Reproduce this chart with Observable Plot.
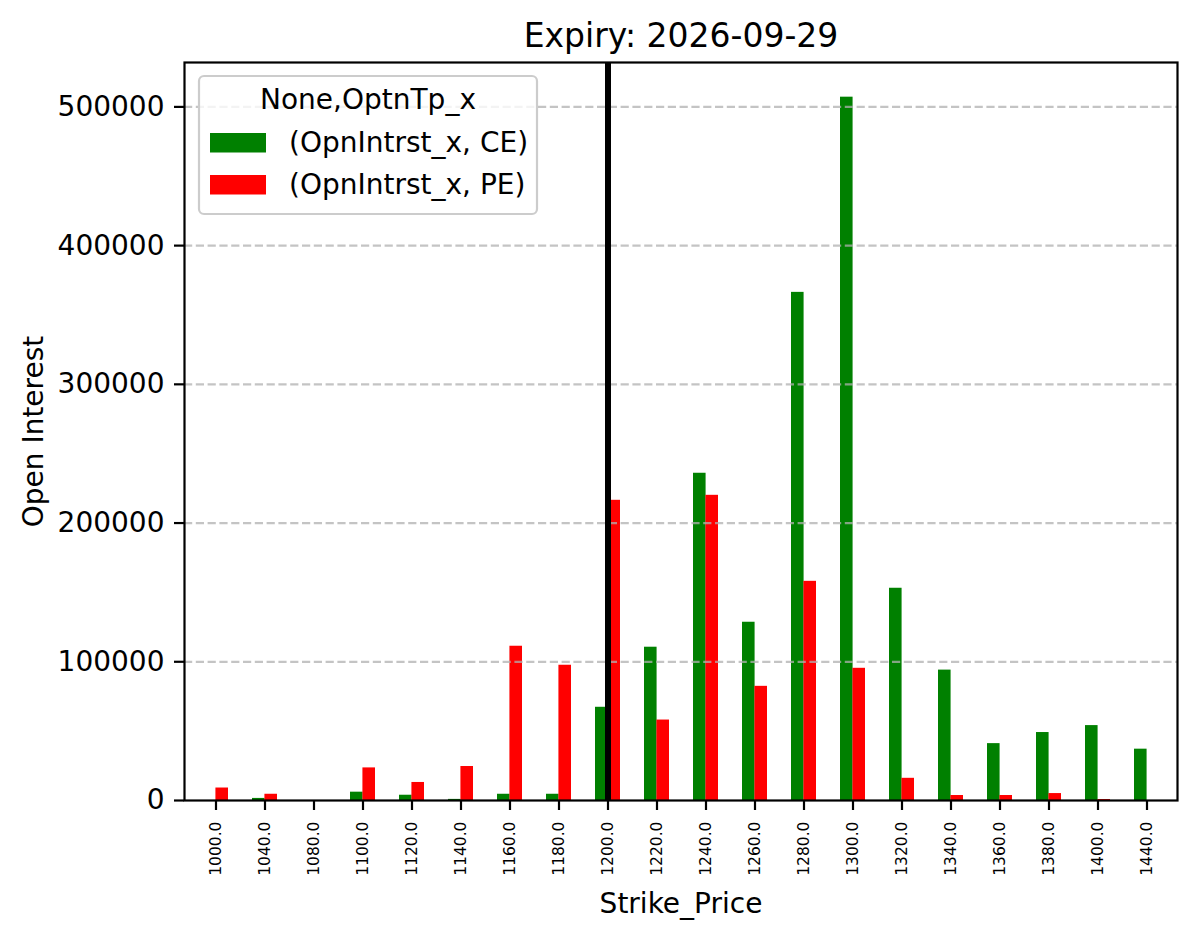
<!DOCTYPE html>
<html>
<head>
<meta charset="utf-8">
<script src="https://cdn.jsdelivr.net/npm/d3@7"></script>
<script src="https://cdn.jsdelivr.net/npm/@observablehq/plot@0.6"></script>
<style>
  html, body { margin: 0; padding: 0; background: #fff; }
  #chart { width: 1197px; height: 939px; }
  svg { font-family: "DejaVu Sans", sans-serif; }
</style>
</head>
<body>
<div id="chart"></div>
<script>
const titleText = "Expiry: 2026-09-29";
const xLabel = "Strike_Price";
const yLabel = "Open Interest";
const legendTitle = "None,OptnTp_x";

const strikes = ["1000.0","1040.0","1080.0","1100.0","1120.0","1140.0","1160.0","1180.0","1200.0","1220.0",
                 "1240.0","1260.0","1280.0","1300.0","1320.0","1340.0","1360.0","1380.0","1400.0","1440.0"];
const ceOI = [0, 1500, 0, 6000, 3800, 800, 4500, 4500, 67200, 110500,
              235900, 128500, 366300, 507000, 153000, 94000, 41000, 49000, 54000, 37000];
const peOI = [9000, 4500, 0, 23500, 13000, 24500, 111200, 97500, 216400, 58000,
              220000, 82300, 158000, 95300, 16000, 3600, 3600, 5000, 700, 0];
const seriesNames = ["(OpnIntrst_x, CE)", "(OpnIntrst_x, PE)"];
const seriesColors = ["#008000", "#ff0000"];
const yTicks = [0, 100000, 200000, 300000, 400000, 500000];
const spotStrike = "1200.0";

const W = 1197, H = 939;
const mL = 184, mR = 20, mT = 62, mB = 139;
const step = (W - mL - mR) / strikes.length;
const half = step * 0.25;

const ce = strikes.map((s, i) => ({strike: s, value: ceOI[i]}));
const pe = strikes.map((s, i) => ({strike: s, value: peOI[i]}));

const chart = Plot.plot({
  width: W, height: H,
  marginLeft: mL, marginRight: mR, marginTop: mT, marginBottom: mB,
  style: {fontFamily: "DejaVu Sans, sans-serif", background: "white"},
  x: {type: "band", domain: strikes, paddingInner: 0.5, paddingOuter: 0.25, label: null},
  y: {domain: [0, 532000], label: null},
  marks: [
    Plot.barY(ce, {x: "strike", y1: 0, y2: "value", fill: seriesColors[0], insetRight: half, insetLeft: 0}),
    Plot.barY(pe, {x: "strike", y1: 0, y2: "value", fill: seriesColors[1], insetLeft: half, insetRight: 0}),
    Plot.ruleY(yTicks.slice(1), {stroke: "#b0b0b0", strokeOpacity: 0.75, strokeWidth: 2.2, strokeDasharray: "8.2,3.6"}),
    Plot.ruleX([spotStrike], {stroke: "black", strokeWidth: 6}),
    Plot.frame({stroke: "black", strokeWidth: 2.2}),
    Plot.axisX({tickRotate: -90, fontSize: 15.5, tickSize: 10, tickPadding: 11, strokeWidth: 2.2, label: null, fill: "black"}),
    Plot.axisY({ticks: yTicks, tickFormat: d3.format("d"), fontSize: 28, tickSize: 10, tickPadding: 10, strokeWidth: 2.2, label: null, fill: "black"}),
    Plot.text([titleText], {frameAnchor: "top", dy: -16, lineAnchor: "bottom", textAnchor: "middle", fontSize: 33, fill: "black"}),
    Plot.text([xLabel], {frameAnchor: "bottom", dy: 112, lineAnchor: "bottom", textAnchor: "middle", fontSize: 28, fill: "black"}),
    Plot.text([yLabel], {frameAnchor: "left", dx: -142, rotate: -90, lineAnchor: "bottom", textAnchor: "middle", fontSize: 28, fill: "black"})
  ]
});

// legend (matplotlib-style box at upper left)
const svg = d3.select(chart);
const lg = svg.append("g").attr("font-family", "DejaVu Sans, sans-serif").attr("font-size", 28).attr("fill", "black");
lg.append("rect").attr("x", 199).attr("y", 76).attr("width", 338).attr("height", 138)
  .attr("rx", 5).attr("fill", "white").attr("fill-opacity", 0.8)
  .attr("stroke", "#cccccc").attr("stroke-width", 2.2);
lg.append("text").attr("x", 368).attr("y", 109).attr("text-anchor", "middle").text(legendTitle);
seriesNames.forEach((name, i) => {
  const yy = 133 + i * 42;
  lg.append("rect").attr("x", 210).attr("y", yy).attr("width", 56).attr("height", 19.5).attr("fill", seriesColors[i]);
  lg.append("text").attr("x", 289).attr("y", yy + 19).attr("text-anchor", "start").text(name);
});

document.getElementById("chart").appendChild(chart);
</script>
</body>
</html>
